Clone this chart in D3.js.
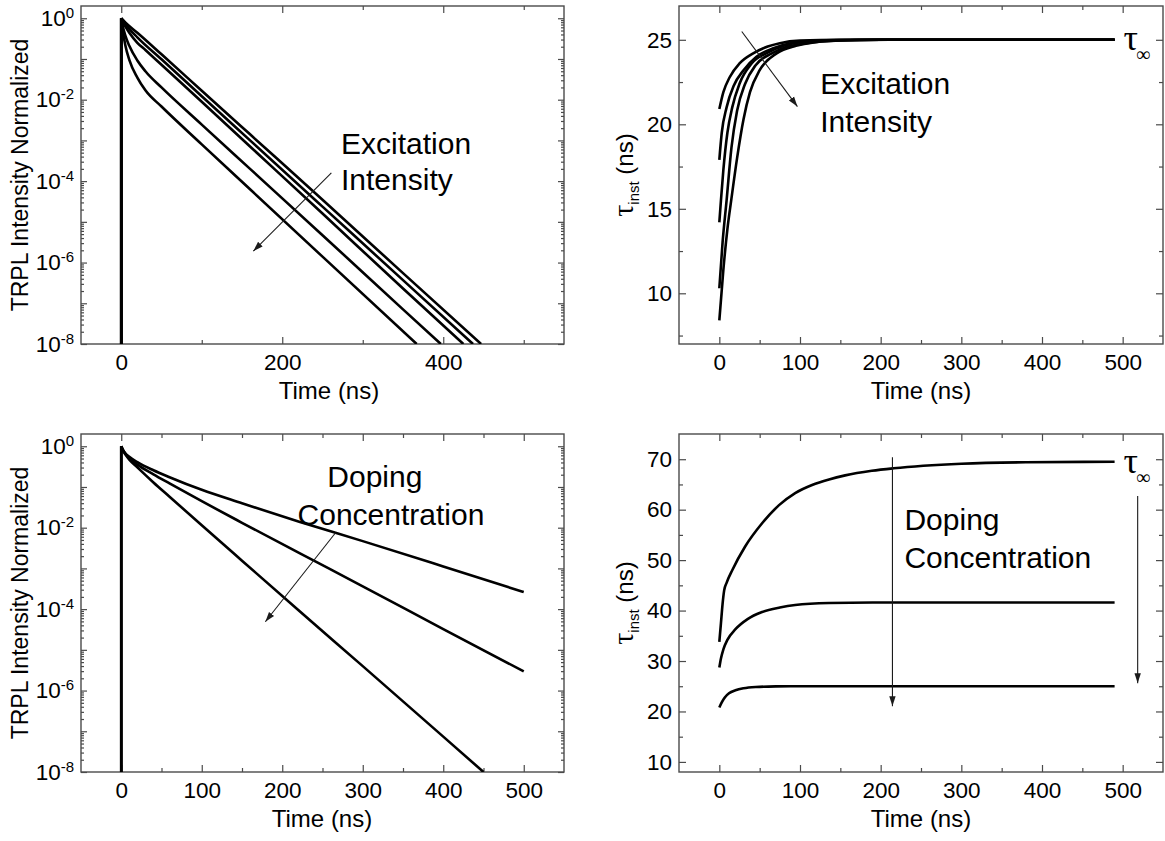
<!DOCTYPE html>
<html>
<head>
<meta charset="utf-8">
<script src="https://cdn.jsdelivr.net/npm/d3@7"></script>
<style>
  body { margin: 0; background: #fff; }
  svg text { font-family: "Liberation Sans", Arial, Helvetica, sans-serif; fill: #000; }
  .serif { font-family: "Liberation Serif", "Times New Roman", serif !important; }
</style>
</head>
<body>
<svg id="fig" width="1165" height="841"></svg>
<script>
// ---------------- data ----------------
// shared time axis (ns)
const timeDomain = [-50, 550];

// TRPL decays for increasing excitation intensity: [time (ns), normalized intensity]
const excDecay1 = [[0,1e-8],[0,1],[5,0.79],[20,0.44],[50,0.13],[100,1.66e-2],[160,1.41e-3],[250,3.5e-5],[350,5.5e-7],[447,1e-8]];
const excDecay2 = [[0,1e-8],[0,1],[2,0.89],[5,0.74],[10,0.55],[20,0.34],[50,9.8e-2],[100,1.21e-2],[160,1.0e-3],[250,2.37e-5],[350,3.7e-7],[437,1e-8]];
const excDecay3 = [[0,1e-8],[0,1],[1,0.89],[3,0.74],[5,0.63],[10,0.44],[20,0.25],[30,0.166],[50,7.2e-2],[100,8.9e-3],[160,7.1e-4],[250,1.6e-5],[350,2.3e-7],[425,1e-8]];
const excDecay4 = [[0,1e-8],[0,1],[1,0.78],[2,0.63],[5,0.38],[10,0.21],[20,9.2e-2],[30,5.0e-2],[50,2.0e-2],[100,2.44e-3],[160,2.0e-4],[250,4.7e-6],[350,7.1e-8],[397,1e-8]];
const excDecay5 = [[0,1e-8],[0,1],[1,0.68],[2,0.48],[5,0.22],[10,9.5e-2],[20,3.5e-2],[30,1.7e-2],[50,6.8e-3],[100,8.0e-4],[160,6.3e-5],[250,1.4e-6],[367,1e-8]];

// instantaneous lifetime for the same excitation series: [time (ns), tau (ns)]
const tauExc1 = [[0,20.9],[5,21.9],[13,22.8],[25,23.6],[42,24.2],[60,24.6],[75,24.8],[100,24.95],[150,25],[490,25]];
const tauExc2 = [[0,17.9],[3,19.5],[9,21.0],[18,22.3],[30,23.2],[46,24.0],[67,24.5],[88,24.8],[120,24.95],[170,25],[490,25]];
const tauExc3 = [[0,14.2],[2,15.5],[5,17.3],[10,19.5],[16,21.0],[25,22.4],[40,23.6],[58,24.2],[80,24.65],[100,24.85],[140,24.97],[200,25],[490,25]];
const tauExc4 = [[0,10.3],[4,13.0],[9,15.5],[15,18.6],[22,20.8],[32,22.4],[45,23.5],[65,24.2],[85,24.6],[108,24.8],[150,24.96],[200,25],[490,25]];
const tauExc5 = [[0,8.4],[5,11.4],[10,13.8],[15,15.6],[22,18.0],[30,20.3],[38,21.9],[50,23.2],[71,24.2],[95,24.65],[117,24.85],[160,24.97],[210,25],[490,25]];

// TRPL decays for increasing doping concentration
const dopDecay1 = [[0,1e-8],[0,1],[2,0.83],[5,0.676],[10,0.55],[20,0.407],[40,0.257],[60,0.174],[100,8.51e-2],[150,3.98e-2],[222,1.38e-2],[300,4.68e-3],[400,1.12e-3],[500,2.63e-4]];
const dopDecay2 = [[0,1e-8],[0,1],[2,0.813],[5,0.661],[10,0.501],[20,0.355],[40,0.204],[60,0.122],[100,4.47e-2],[150,1.32e-2],[222,2.34e-3],[300,3.63e-4],[400,3.24e-5],[500,2.95e-6]];
const dopDecay3 = [[0,1e-8],[0,1],[2,0.794],[5,0.631],[10,0.468],[20,0.302],[40,0.129],[60,5.75e-2],[100,1.15e-2],[150,1.55e-3],[222,8.7e-5],[300,3.98e-6],[400,7.4e-8],[450,1e-8]];

// instantaneous lifetime for the doping series
const tauDop1 = [[0,33.8],[2,37.5],[4,41.3],[6,44.0],[9,45.5],[16,48.0],[32,52.7],[53,57.3],[74,60.9],[94,63.3],[115,64.9],[136,66.0],[156,66.8],[189,67.7],[216,68.2],[300,69.1],[380,69.4],[490,69.5]];
const tauDop2 = [[0,28.7],[2,30.5],[5,32.3],[10,34.2],[20,36.3],[35,38.3],[53,39.7],[75,40.6],[94,41.1],[136,41.5],[190,41.6],[490,41.6]];
const tauDop3 = [[0,20.8],[3,21.8],[7,22.8],[12,23.6],[20,24.2],[30,24.6],[45,24.85],[70,24.97],[100,25],[490,25]];

// tick values
const xTicksWide   = [0, 200, 400];
const xMinorWide   = [100, 300, 500];
const xTicksFull   = [0, 100, 200, 300, 400, 500];
const xMinorFull   = [50, 150, 250, 350, 450];
const logDecades   = [1e-8, 1e-7, 1e-6, 1e-5, 1e-4, 1e-3, 1e-2, 1e-1, 1];
const tauExcTicks  = [10, 15, 20, 25];
const tauExcMinor  = [7.5, 12.5, 17.5, 22.5];
const tauDopTicks  = [10, 20, 30, 40, 50, 60, 70];
const tauDopMinor  = [15, 25, 35, 45, 55, 65];

// ---------------- drawing ----------------
const svg = d3.select('#fig');
const defs = svg.append('defs');
defs.append('marker')
  .attr('id', 'head').attr('viewBox', '0 0 10 10')
  .attr('refX', 10).attr('refY', 5)
  .attr('markerWidth', 10).attr('markerHeight', 10)
  .attr('markerUnits', 'userSpaceOnUse').attr('orient', 'auto')
  .append('path').attr('d', 'M0,1.8 L10,5 L0,8.2 Z').attr('fill', '#1a1a1a');

const AXIS_COLOR = '#4a4a4a';
const NOTE_SIZE = 30;
const TICK_SIZE = 22.5;

// log minor ticks: 2..9 within each decade
function logMinor(lo, hi) {
  const out = [];
  for (let e = Math.log10(lo); e < Math.log10(hi) + 1; e++) {
    for (let m = 2; m <= 9; m++) {
      const v = m * Math.pow(10, e);
      if (v > lo && v < hi) out.push(v);
    }
  }
  return out;
}

function makePanel(id, box, yScale, spec) {
  const g = svg.append('g').attr('id', id);
  const x = d3.scaleLinear().domain(timeDomain).range([box.left, box.right]);
  const y = yScale.range([box.bottom, box.top]);

  defs.append('clipPath').attr('id', id + '-clip')
    .append('rect').attr('x', box.left).attr('y', box.top)
    .attr('width', box.right - box.left).attr('height', box.bottom - box.top);

  const tidy = sel => {
    sel.select('.domain').remove();
    sel.attr('color', AXIS_COLOR).attr('font-size', null).attr('font-family', null);
    sel.selectAll('.tick line').attr('stroke-width', 1.2);
    sel.selectAll('.tick text').style('font-size', TICK_SIZE + 'px');
  };

  // bottom: labelled major ticks + minor ticks
  g.append('g').attr('transform', `translate(0,${box.bottom})`)
    .call(d3.axisBottom(x).tickValues(spec.xMajor).tickSize(-7).tickPadding(10).tickFormat(d3.format('d')))
    .call(tidy);
  g.append('g').attr('transform', `translate(0,${box.bottom})`)
    .call(d3.axisBottom(x).tickValues(spec.xMinor).tickSize(-4).tickFormat(''))
    .call(tidy);
  // top mirror
  g.append('g').attr('transform', `translate(0,${box.top})`)
    .call(d3.axisTop(x).tickValues(spec.xMajor).tickSize(-7).tickFormat(''))
    .call(tidy);
  g.append('g').attr('transform', `translate(0,${box.top})`)
    .call(d3.axisTop(x).tickValues(spec.xMinor).tickSize(-4).tickFormat(''))
    .call(tidy);

  // left: labelled
  const left = g.append('g').attr('transform', `translate(${box.left},0)`)
    .call(d3.axisLeft(y).tickValues(spec.yMajor).tickSize(-spec.yMajorLen).tickPadding(7)
      .tickFormat(spec.yFormat || d3.format('d')))
    .call(tidy);
  g.append('g').attr('transform', `translate(${box.left},0)`)
    .call(d3.axisLeft(y).tickValues(spec.yMinor).tickSize(-spec.yMinorLen).tickFormat(''))
    .call(tidy);
  // right mirror
  g.append('g').attr('transform', `translate(${box.right},0)`)
    .call(d3.axisRight(y).tickValues(spec.yMajor).tickSize(-spec.yMajorLen).tickFormat(''))
    .call(tidy);
  g.append('g').attr('transform', `translate(${box.right},0)`)
    .call(d3.axisRight(y).tickValues(spec.yMinor).tickSize(-spec.yMinorLen).tickFormat(''))
    .call(tidy);

  // powers of ten written as 10 with a raised exponent
  if (spec.powerLabels) {
    left.selectAll('.tick text').each(function (d) {
      const e = Math.round(Math.log10(d));
      const t = d3.select(this).text(null);
      if (e % 2 !== 0) return;
      t.append('tspan').text('10');
      t.append('tspan').attr('dy', -8).style('font-size', '15px').text(String(e));
    });
  }

  // frame
  g.append('rect')
    .attr('x', box.left).attr('y', box.top)
    .attr('width', box.right - box.left).attr('height', box.bottom - box.top)
    .attr('fill', 'none').attr('stroke', AXIS_COLOR).attr('stroke-width', 1.4);

  // x title
  g.append('text').attr('x', spec.xTitleX).attr('y', box.bottom + 55)
    .attr('text-anchor', 'middle').style('font-size', '24px').text('Time (ns)');

  return { g, x, y, clip: `url(#${id}-clip)` };
}

function drawCurves(p, seriesList, hasRise) {
  const line = d3.line().x(d => p.x(d[0])).y(d => p.y(d[1])).curve(d3.curveMonotoneX);
  const rise = d3.line().x(d => p.x(d[0])).y(d => p.y(d[1]));
  const layer = p.g.append('g').attr('clip-path', p.clip)
    .attr('fill', 'none').attr('stroke', '#000').attr('stroke-width', 2.6)
    .attr('stroke-linejoin', 'round');
  seriesList.forEach(s => {
    if (hasRise) {
      layer.append('path').attr('d', rise(s.slice(0, 2)));
      layer.append('path').attr('d', line(s.slice(1)));
    } else {
      layer.append('path').attr('d', line(s));
    }
  });
}

function arrow(p, from, to) {
  p.g.append('line')
    .attr('x1', p.x(from[0])).attr('y1', p.y(from[1]))
    .attr('x2', p.x(to[0])).attr('y2', p.y(to[1]))
    .attr('stroke', '#1a1a1a').attr('stroke-width', 1.1)
    .attr('marker-end', 'url(#head)');
}

function label(p, at, text) {
  p.g.append('text').attr('x', p.x(at[0])).attr('y', p.y(at[1]))
    .style('font-size', NOTE_SIZE + 'px').text(text);
}

function tauInf(p, at) {
  const t = p.g.append('text').attr('x', p.x(at[0])).attr('y', p.y(at[1]));
  t.append('tspan').attr('class', 'serif').style('font-size', '36px').text('τ');
  t.append('tspan').attr('class', 'serif').attr('dx', -2).attr('dy', 11).style('font-size', '20px').text('∞');
}

function tauTitle(cx, cy) {
  const t = svg.append('text').attr('transform', `translate(${cx},${cy}) rotate(-90)`)
    .attr('text-anchor', 'middle').style('font-size', '24px');
  t.append('tspan').attr('class', 'serif').style('font-size', '30px').text('τ');
  t.append('tspan').attr('dy', 6).style('font-size', '15px').text('inst');
  t.append('tspan').attr('dy', -6).text(' (ns)');
}

function trplTitle(cx, cy) {
  svg.append('text').attr('transform', `translate(${cx},${cy}) rotate(-90)`)
    .attr('text-anchor', 'middle').style('font-size', '23px')
    .text('TRPL Intensity Normalized');
}

const logSpec = (xMajor, xMinor, xTitleX) => ({
  xMajor, xMinor, xTitleX,
  yMajor: logDecades, yMinor: logMinor(1e-8, 1.9),
  yMajorLen: 6, yMinorLen: 3,
  yFormat: () => '', powerLabels: true
});

// --- excitation: TRPL ---
const pA = makePanel('excTRPL', { left: 81, right: 564, top: 6, bottom: 344 },
  d3.scaleLog().domain([1e-8, 2]), logSpec(xTicksWide, xMinorWide, 329));
drawCurves(pA, [excDecay1, excDecay2, excDecay3, excDecay4, excDecay5], true);
arrow(pA, [261, 1.6e-4], [164, 1.9e-6]);
label(pA, [273, 4.7e-4], 'Excitation');
label(pA, [273, 5.9e-5], 'Intensity');
trplTitle(28, 175);

// --- excitation: instantaneous lifetime ---
const pB = makePanel('excTau', { left: 679, right: 1163, top: 6, bottom: 344 },
  d3.scaleLinear().domain([7, 27]), {
    xMajor: xTicksFull, xMinor: xMinorFull, xTitleX: 921,
    yMajor: tauExcTicks, yMinor: tauExcMinor, yMajorLen: 7, yMinorLen: 4
  });
drawCurves(pB, [tauExc1, tauExc2, tauExc3, tauExc4, tauExc5], false);
arrow(pB, [27.8, 25.49], [96.8, 21.05]);
label(pB, [125, 21.79], 'Excitation');
label(pB, [125, 19.57], 'Intensity');
tauInf(pB, [501, 24.4]);
tauTitle(633, 175);

// --- doping: TRPL ---
const pC = makePanel('dopTRPL', { left: 81, right: 564, top: 434, bottom: 772 },
  d3.scaleLog().domain([1e-8, 2]), logSpec(xTicksFull, xMinorFull, 322));
drawCurves(pC, [dopDecay1, dopDecay2, dopDecay3], true);
arrow(pC, [266, 7.4e-3], [179, 4.9e-5]);
label(pC, [256, 0.1], 'Doping');
label(pC, [219, 1.15e-2], 'Concentration');
trplTitle(28, 603);

// --- doping: instantaneous lifetime ---
const pD = makePanel('dopTau', { left: 679, right: 1163, top: 434, bottom: 772 },
  d3.scaleLinear().domain([8, 75]), {
    xMajor: xTicksFull, xMinor: xMinorFull, xTitleX: 921,
    yMajor: tauDopTicks, yMinor: tauDopMinor, yMajorLen: 7, yMinorLen: 4
  });
drawCurves(pD, [tauDop1, tauDop2, tauDop3], false);
arrow(pD, [214.6, 70.4], [214.6, 21.05]);
arrow(pD, [518.6, 62.7], [518.6, 25.6]);
label(pD, [229.5, 55.97], 'Doping');
label(pD, [229.5, 48.4], 'Concentration');
tauInf(pD, [501, 67.3]);
tauTitle(633, 603);
</script>
</body>
</html>
